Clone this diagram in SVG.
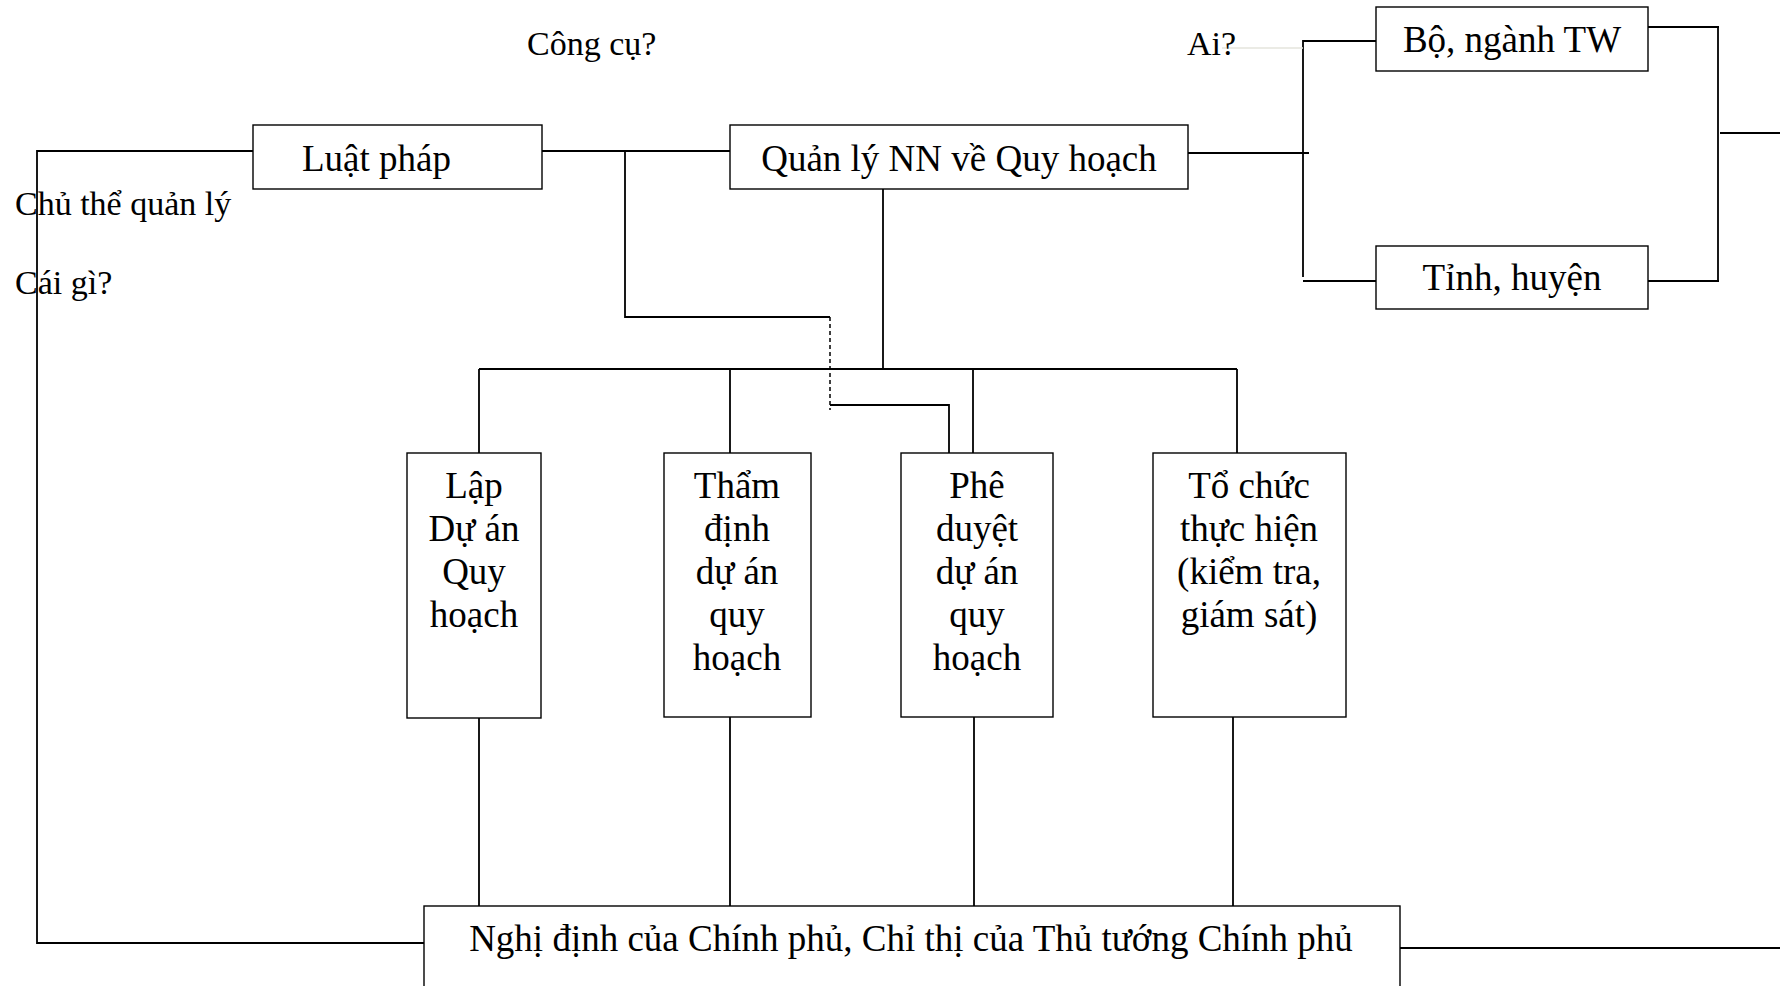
<svg xmlns="http://www.w3.org/2000/svg" width="1780" height="986" viewBox="0 0 1780 986">
<style>
.box{fill:#fff;stroke:#000;stroke-width:1.4}
.ln{fill:none;stroke:#000;stroke-width:1.8}
.dash{fill:none;stroke:#000;stroke-width:1.5;stroke-dasharray:4 3}
.faint{fill:none;stroke:#e4e4dc;stroke-width:1.5}
.t{font-family:"Liberation Serif","Times New Roman",serif;font-size:37px;fill:#000}
.lbl{font-family:"Liberation Serif","Times New Roman",serif;font-size:34px;fill:#000}
.c{text-anchor:middle}
</style>
<rect width="1780" height="986" fill="#fff"/>
<g id="connectors">
  <polyline class="ln" points="253,151 37,151 37,943 424,943"/>
  <line class="ln" x1="542" y1="151" x2="730" y2="151"/>
  <polyline class="ln" points="625,151 625,317 830,317"/>
  <line class="dash" x1="830" y1="317" x2="830" y2="410"/>
  <polyline class="ln" points="830,405 949,405 949,453"/>
  <line class="ln" x1="883" y1="189" x2="883" y2="369"/>
  <line class="ln" x1="479" y1="369" x2="1237" y2="369"/>
  <line class="ln" x1="479" y1="369" x2="479" y2="453"/>
  <line class="ln" x1="730" y1="369" x2="730" y2="453"/>
  <line class="ln" x1="973" y1="369" x2="973" y2="453"/>
  <line class="ln" x1="1237" y1="369" x2="1237" y2="453"/>
  <line class="ln" x1="479" y1="718" x2="479" y2="906"/>
  <line class="ln" x1="730" y1="717" x2="730" y2="906"/>
  <line class="ln" x1="974" y1="717" x2="974" y2="906"/>
  <line class="ln" x1="1233" y1="717" x2="1233" y2="906"/>
  <line class="ln" x1="1400" y1="948" x2="1780" y2="948"/>
  <line class="ln" x1="1188" y1="153" x2="1309" y2="153"/>
  <polyline class="ln" points="1376,41 1303,41 1303,277"/>
  <line class="ln" x1="1303" y1="281" x2="1376" y2="281"/>
  <polyline class="ln" points="1648,27 1719,27"/>
  <line class="ln" x1="1718" y1="27" x2="1718" y2="281"/>
  <line class="ln" x1="1648" y1="281" x2="1719" y2="281"/>
  <line class="ln" x1="1720" y1="133" x2="1780" y2="133"/>
  <line class="faint" x1="1222" y1="48" x2="1303" y2="48"/>
</g>
<g id="labels">
  <text class="lbl" x="527" y="55">Công cụ?</text>
  <text class="lbl" x="1187" y="55">Ai?</text>
  <text class="lbl" x="15" y="215">Chủ thể quản lý</text>
  <text class="lbl" x="15" y="294">Cái gì?</text>
</g>
<g id="luat-phap">
  <rect class="box" x="253" y="125" width="289" height="64"/>
  <text class="t" x="302" y="171">Luật pháp</text>
</g>
<g id="quan-ly">
  <rect class="box" x="730" y="125" width="458" height="64"/>
  <text class="t c" x="959" y="171">Quản lý NN về Quy hoạch</text>
</g>
<g id="bo-nganh">
  <rect class="box" x="1376" y="7" width="272" height="64"/>
  <text class="t c" x="1512" y="52">Bộ, ngành TW</text>
</g>
<g id="tinh-huyen">
  <rect class="box" x="1376" y="246" width="272" height="63"/>
  <text class="t c" x="1512" y="290">Tỉnh, huyện</text>
</g>
<g id="lap">
  <rect class="box" x="407" y="453" width="134" height="265"/>
  <text class="t c"><tspan x="474" y="498">Lập</tspan><tspan x="474" y="541">Dự án</tspan><tspan x="474" y="584">Quy</tspan><tspan x="474" y="627">hoạch</tspan></text>
</g>
<g id="tham-dinh">
  <rect class="box" x="664" y="453" width="147" height="264"/>
  <text class="t c"><tspan x="737" y="498">Thẩm</tspan><tspan x="737" y="541">định</tspan><tspan x="737" y="584">dự án</tspan><tspan x="737" y="627">quy</tspan><tspan x="737" y="670">hoạch</tspan></text>
</g>
<g id="phe-duyet">
  <rect class="box" x="901" y="453" width="152" height="264"/>
  <text class="t c"><tspan x="977" y="498">Phê</tspan><tspan x="977" y="541">duyệt</tspan><tspan x="977" y="584">dự án</tspan><tspan x="977" y="627">quy</tspan><tspan x="977" y="670">hoạch</tspan></text>
</g>
<g id="to-chuc">
  <rect class="box" x="1153" y="453" width="193" height="264"/>
  <text class="t c"><tspan x="1249" y="498">Tổ chức</tspan><tspan x="1249" y="541">thực hiện</tspan><tspan x="1249" y="584">(kiểm tra,</tspan><tspan x="1249" y="627">giám sát)</tspan></text>
</g>
<g id="nghi-dinh">
  <rect class="box" x="424" y="906" width="976" height="100"/>
  <text class="t c" x="911" y="951">Nghị định của Chính phủ, Chỉ thị của Thủ tướng Chính phủ</text>
</g>
</svg>
